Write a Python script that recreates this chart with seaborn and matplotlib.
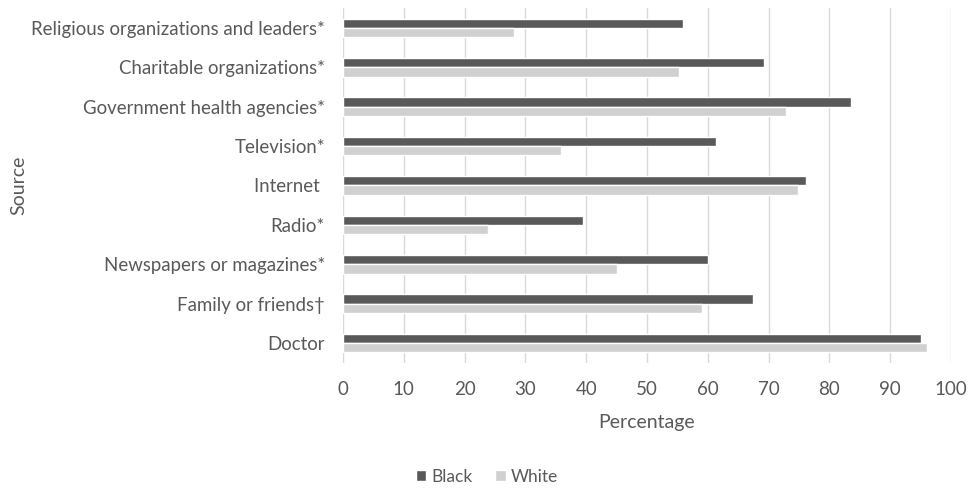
import numpy as np
import pandas as pd
import seaborn as sns
import matplotlib.pyplot as plt

sources = ["Religious organizations and leaders*", "Charitable organizations*",
           "Government health agencies*", "Television*", "Internet ",
           "Radio*", "Newspapers or magazines*", "Family or friends\u2020", "Doctor"]
black = [55.9, 69.3, 83.5, 61.4, 76.2, 39.4, 60.1, 67.5, 95.0]
white = [28.2, 55.3, 72.9, 35.8, 74.9, 23.9, 45.0, 59.0, 96.1]
groups = ["Black", "White"]
x_ticks = list(range(0, 101, 10))

df = pd.DataFrame({
    "Source": sources * 2,
    "Percentage": black + white,
    "Group": ["Black"] * len(sources) + ["White"] * len(sources),
})

sns.set_style("white")
plt.rcParams["font.family"] = ["Lato", "DejaVu Sans"]
txt = "#595959"

fig = plt.figure(figsize=(9.74, 4.93), dpi=100)
ax = fig.add_axes([0.3522, 0.2643, 0.9764 - 0.3522, 0.9832 - 0.2643])

sns.barplot(data=df, y="Source", x="Percentage", hue="Group", hue_order=groups,
            order=sources, orient="h", width=0.47, gap=0,
            palette={"Black": "#595959", "White": "#d0d0d0"},
            saturation=1, ax=ax, legend=True)

ax.set_xlim(0, 100)
ax.set_ylim(len(sources) - 0.5, -0.5)
ax.set_xticks(x_ticks)
for v in x_ticks:
    ax.axvline(v, color="#d9d9d9", lw=1, zorder=0)
ax.set_axisbelow(True)
for s in ax.spines.values():
    s.set_visible(False)

ax.tick_params(axis="x", length=0, pad=13, labelsize=13.5, labelcolor=txt)
ax.tick_params(axis="y", length=0, pad=13, labelsize=13.4, labelcolor=txt)
ax.set_xlabel("Percentage", fontsize=14, color=txt, labelpad=12)
ax.set_ylabel("")
fig.text(19 / 974, 1 - 185 / 493, "Source", rotation=90, ha="center", va="center",
         fontsize=14, color=txt)

ax.legend_.remove()
handles, labels = ax.get_legend_handles_labels()
fig.legend(handles, labels, loc="center", bbox_to_anchor=(487 / 974, 1 - 477 / 493),
           ncol=2, frameon=False, fontsize=12.5, labelcolor=txt,
           handlelength=0.6, handleheight=0.6, handletextpad=0.3, columnspacing=1.3)

fig.savefig("out.png", dpi=100)
